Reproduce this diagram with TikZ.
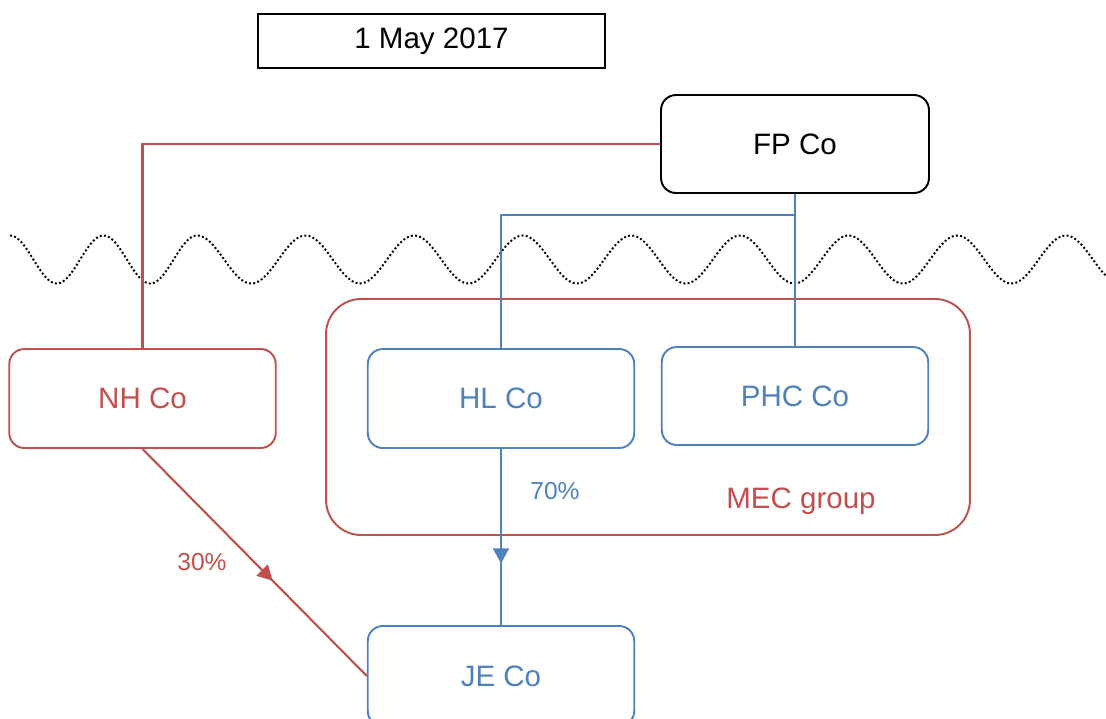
\documentclass[tikz,border=0pt]{standalone}
\usepackage{fontspec}
\setmainfont{Liberation Sans}
\usetikzlibrary{arrows.meta,decorations.markings}
\definecolor{cred}{RGB}{192,80,77}
\definecolor{cblue}{RGB}{79,129,189}
\tikzset{
  box/.style={draw, rounded corners=0.3cm, line width=1.1pt, minimum width=5.33cm, minimum height=1.98cm, inner sep=0pt, font=\fontsize{16.8}{20}\selectfont},
  redbox/.style={box, draw=cred, text=cred},
  bluebox/.style={box, draw=cblue, text=cblue},
  redline/.style={draw=cred, line width=1.2pt},
  blueline/.style={draw=cblue, line width=1.2pt},
  midarrow/.style={postaction={decorate}, decoration={markings, mark=at position #1 with {\arrow{Triangle[length=8.5pt,width=9pt]}}}},
  lbl/.style={font=\fontsize{14}{17}\selectfont, inner sep=0pt},
  wave/.style={line width=1.1pt, dash pattern=on 1.1pt off 1.3pt},
}
\begin{document}
\begin{tikzpicture}[x=0.02cm, y=-0.02cm]
\clip (0,0) rectangle (1106,718);
% wave
\draw[wave] plot[domain=10:197, samples=120, smooth] (\x, {259.5-24*cos((\x-197)*3.85)})
  -- plot[domain=197:1106, samples=400, smooth] (\x, {259.5-24*cos((\x-197)*3.3149)});
% MEC group
\node[draw=cred, line width=1.1pt, rounded corners=0.7cm, minimum width=12.88cm, minimum height=4.72cm] (mec) at (648,417) {};
\node[text=cred, font=\fontsize{16.8}{20}\selectfont, inner sep=0pt] (meclbl) at (801,501) {MEC group};
% date
\node[draw, line width=0.9pt, minimum width=6.94cm, minimum height=1.08cm, inner sep=0pt, font=\fontsize{16.8}{20}\selectfont] (date) at (431.5,41) {1 May 2017};
% boxes
\node[box, draw=black, text=black, minimum width=5.36cm, minimum height=1.96cm] (fp) at (795,144) {FP Co};
\node[redbox] (nh) at (142.5,398.5) {NH Co};
\node[bluebox] (hl) at (501,398.5) {HL Co};
\node[bluebox, minimum height=1.96cm] (phc) at (795,396) {PHC Co};
\node[bluebox, minimum height=2.0cm] (je) at (501,676) {JE Co};
% connectors
\draw[redline] (fp.west) -| (nh.north);
\coordinate (j) at (795,215);
\draw[blueline] (fp.south) -- (j) -| (hl.north);
\draw[blueline] (j) -- (phc.north);
\draw[blueline, midarrow=0.65] (hl.south) -- (je.north);
\draw[redline, midarrow=0.58] (nh.south) -- (je.west);
% labels
\node[lbl, text=cblue] (p70) at (555,491) {70\%};
\node[lbl, text=cred] (p30) at (202,562) {30\%};
\end{tikzpicture}
\end{document}
